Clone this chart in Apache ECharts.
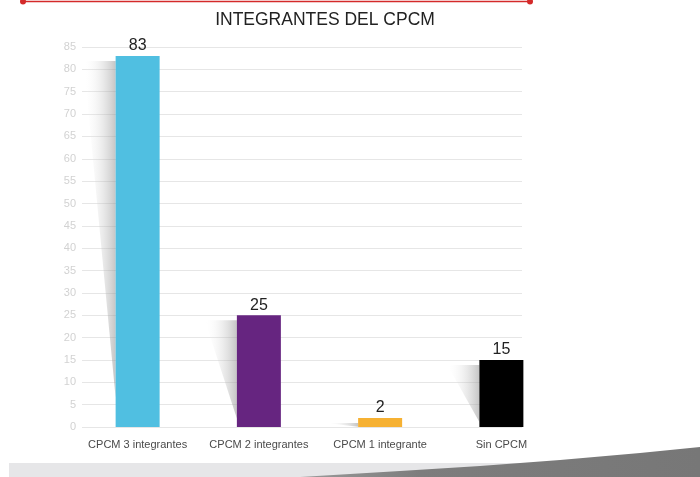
<!DOCTYPE html>
<html>
<head>
<meta charset="utf-8">
<script src="https://cdn.jsdelivr.net/npm/echarts@6/dist/echarts.min.js"></script>
<style>html,body{margin:0;padding:0;background:#fff}#c{width:700px;height:477px}</style>
</head>
<body>
<div id="c"></div>
<script>
const categories = ['CPCM 3 integrantes', 'CPCM 2 integrantes', 'CPCM 1 integrante', 'Sin CPCM'];
const values = [83, 25, 2, 15];
const barColors = ['#50bfe1', '#662580', '#f6b133', '#000000'];
const yTicks = { min: 0, max: 85, interval: 5 };
const titleText = 'INTEGRANTES DEL CPCM';

const chart = echarts.init(document.getElementById('c'), null, { renderer: 'canvas' });
const FONT = '"Liberation Sans", Arial, Helvetica, sans-serif';

const option = {
  animation: false,
  backgroundColor: '#ffffff',
  grid: [
    { left: 82, right: 178, top: 47, bottom: 50 },
    { left: 77, width: 485, top: 47, bottom: 50 }
  ],
  xAxis: [
    { gridIndex: 0, type: 'category', data: categories, show: false },
    {
      gridIndex: 1, type: 'category', data: categories,
      axisLine: { show: false }, axisTick: { show: false },
      axisLabel: { interval: 0, color: '#4a4a4a', fontSize: 11, fontFamily: FONT, margin: 12 }
    }
  ],
  yAxis: [
    {
      gridIndex: 0, type: 'value', min: yTicks.min, max: yTicks.max, interval: yTicks.interval,
      axisLine: { show: false }, axisTick: { show: false },
      axisLabel: { color: '#d2d2d2', fontSize: 11, fontFamily: FONT, margin: 6 },
      splitLine: { lineStyle: { color: '#e6e6e6', width: 1 } }
    },
    {
      gridIndex: 1, type: 'value', min: yTicks.min, max: yTicks.max, interval: yTicks.interval,
      show: false, splitLine: { show: false }
    }
  ],
  series: [{
    type: 'bar',
    xAxisIndex: 1, yAxisIndex: 1,
    barWidth: 44,
    z: 5,
    data: values.map((v, i) => ({ value: v, itemStyle: { color: barColors[i] } })),
    label: {
      show: true, position: 'top', distance: 2,
      color: '#222', fontSize: 16, fontFamily: FONT
    }
  }]
};
chart.setOption(option);

// decorations: bar shadows computed from axis scale, title, top rule, bottom swoosh
const graphics = [];
values.forEach((v, i) => {
  const top = chart.convertToPixel({ xAxisIndex: 1, yAxisIndex: 1 }, [i, v]);
  const base = chart.convertToPixel({ xAxisIndex: 1, yAxisIndex: 1 }, [i, 0]);
  const left = top[0] - 22;
  const yTop = top[1] + 5;
  const h = base[1] - yTop;
  const w = 32;
  graphics.push({
    type: 'polygon', z: 1, silent: true,
    shape: { points: [[left - w, yTop], [left, yTop], [left, yTop + h * 0.92]] },
    style: {
      fill: new echarts.graphic.LinearGradient(0, 0, 1, 0, [
        { offset: 0, color: 'rgba(255,255,255,0)' },
        { offset: 1, color: 'rgba(150,150,150,0.55)' }
      ])
    }
  });
});

graphics.push(
  {
    type: 'text', z: 10, x: 325, y: 20,
    style: { text: titleText, fill: '#222', font: '17.5px ' + FONT, textAlign: 'center', textVerticalAlign: 'middle' }
  },
  { type: 'line', z: 10, shape: { x1: 23, y1: 1.5, x2: 530, y2: 1.5 }, style: { stroke: '#d42a2a', lineWidth: 1.5 } },
  { type: 'circle', z: 10, shape: { cx: 23, cy: 1.5, r: 3 }, style: { fill: '#d42a2a' } },
  { type: 'circle', z: 10, shape: { cx: 530, cy: 1.5, r: 3 }, style: { fill: '#d42a2a' } },
  { type: 'rect', z: 0, shape: { x: 9, y: 463, width: 700, height: 14 }, style: { fill: '#e6e6e8' } },
  {
    type: 'polygon', z: 1,
    shape: { points: [[300, 477], [400, 471], [480, 466], [560, 460], [640, 453], [700, 447], [700, 477]] },
    style: {
      fill: new echarts.graphic.LinearGradient(0, 0, 1, 0, [
        { offset: 0, color: '#9a9a9a' },
        { offset: 0.3, color: '#7d7d7d' },
        { offset: 1, color: '#777777' }
      ])
    }
  }
);
chart.setOption({ graphic: graphics });
</script>
</body>
</html>
